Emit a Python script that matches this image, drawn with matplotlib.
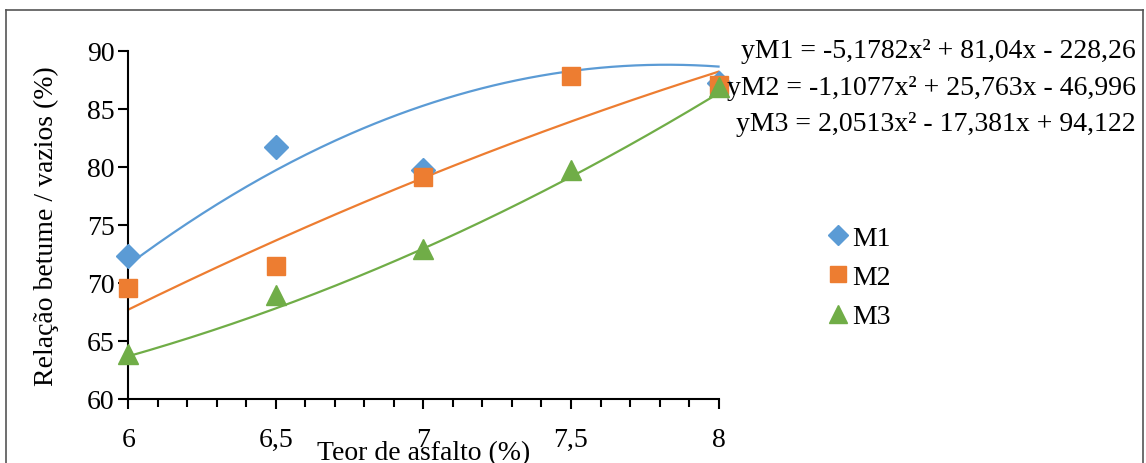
import matplotlib.pyplot as plt
import numpy as np
from matplotlib.lines import Line2D

plt.rcParams['font.family'] = ['Liberation Serif', 'DejaVu Serif']

# data
x_m1 = [6, 6.5, 7, 8]
y_m1 = [72.3, 81.7, 79.7, 87.2]
x_m2 = [6, 6.5, 7, 7.5, 8]
y_m2 = [69.6, 71.5, 79.1, 87.8, 87.1]
x_m3 = [6, 6.5, 7, 7.5, 8]
y_m3 = [63.9, 69.0, 72.9, 79.7, 86.9]

# trend line coefficients (a, b, c) as printed on the chart
coef_m1 = [-5.1782, 81.04, -228.26]
coef_m2 = [-1.1077, 25.763, -46.996]
coef_m3 = [2.0513, -17.381, 94.122]
eq_labels = ['yM1 = -5,1782x² + 81,04x - 228,26',
             'yM2 = -1,1077x² + 25,763x - 46,996',
             'yM3 = 2,0513x² - 17,381x + 94,122']

blue = '#5B9BD5'
orange = '#ED7D31'
green = '#70AD47'

fig = plt.figure(figsize=(11.46, 4.64), dpi=100)
ax = fig.add_axes([0.112, 0.138, 0.515, 0.75])

xs = np.linspace(6, 8, 200)
for coef, col in [(coef_m1, blue), (coef_m2, orange), (coef_m3, green)]:
    ax.plot(xs, np.polyval(coef, xs), color=col, lw=1.6, zorder=2, clip_on=False)

ax.plot(x_m1, y_m1, 'D', color=blue, ms=12, zorder=3, clip_on=False)
ax.plot(x_m2, y_m2, 's', color=orange, ms=13, zorder=4, clip_on=False)
ax.plot(x_m3, y_m3, '^', color=green, ms=15, zorder=5, clip_on=False)

ax.set_xlim(6, 8)
ax.set_ylim(60, 90)
ax.set_xticks([6, 6.5, 7, 7.5, 8])
ax.set_xticklabels(['6', '6,5', '7', '7,5', '8'])
ax.set_xticks(np.arange(6, 8.01, 0.1), minor=True)
ax.set_yticks(range(60, 91, 5))
ax.spines['top'].set_visible(False)
ax.spines['right'].set_visible(False)
ax.spines['left'].set_linewidth(1.5)
ax.spines['bottom'].set_linewidth(1.5)
ax.tick_params(axis='both', labelsize=20, width=1.5, direction='out')
ax.tick_params(axis='y', length=7, pad=3)
ax.tick_params(axis='x', which='major', length=7, pad=13)
ax.tick_params(axis='x', which='minor', length=6, width=1.5)
ax.set_xlabel('Teor de asfalto (%)', fontsize=20, va='center')
ax.xaxis.set_label_coords(0.5, -0.155)
ax.set_ylabel('Relação betume / vazios (%)', fontsize=20, labelpad=20)

for i, t in enumerate(eq_labels):
    fig.text(0.991, 0.888 - i * 0.078, t, ha='right', va='center', fontsize=20)

handles = [Line2D([], [], ls='', marker='D', color=blue, ms=10),
           Line2D([], [], ls='', marker='s', color=orange, ms=12),
           Line2D([], [], ls='', marker='^', color=green, ms=13)]
fig.legend(handles, ['M1', 'M2', 'M3'], loc='center left',
           bbox_to_anchor=(0.70, 0.40), frameon=False, fontsize=20,
           handlelength=0.8, handletextpad=0.1, labelspacing=0.5)

# outer frame of the figure
fig.add_artist(Line2D([0.005, 0.005], [0.0, 0.977], color='#555555', lw=1.2))
fig.add_artist(Line2D([0.005, 0.997], [0.977, 0.977], color='#555555', lw=1.2))
fig.add_artist(Line2D([0.997, 0.997], [0.0, 0.977], color='#555555', lw=1.2))

plt.savefig('out.png', dpi=100)
